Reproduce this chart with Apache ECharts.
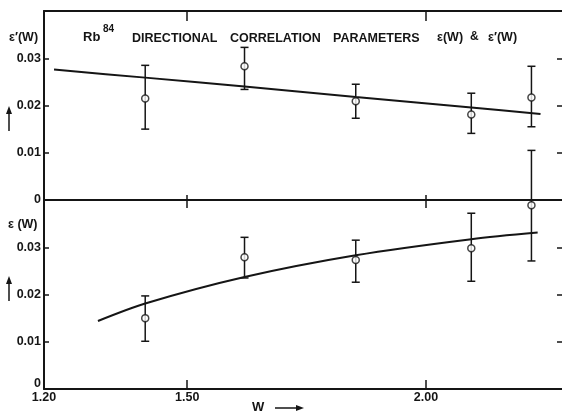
<!DOCTYPE html>
<html><head><meta charset="utf-8">
<script src="https://cdn.jsdelivr.net/npm/echarts@6/dist/echarts.min.js"></script>
<style>html,body{margin:0;padding:0;background:#fff}#c{width:562px;height:414px}</style>
</head><body><div id="c"></div>
<script>
// ---- data ----
const W = [1.412, 1.62, 1.853, 2.095, 2.221];
const epsPrime   = [0.0215, 0.0283, 0.0209, 0.0181, 0.0217];
const epsPrimeLo = [0.0150, 0.0234, 0.0173, 0.0141, 0.0155];
const epsPrimeHi = [0.0285, 0.0323, 0.0245, 0.0226, 0.0283];
const eps   = [0.0150, 0.0279, 0.0273, 0.0298, 0.0389];
const epsLo = [0.0101, 0.0235, 0.0226, 0.0228, 0.0271];
const epsHi = [0.0197, 0.0321, 0.0315, 0.0372, 0.0505];
const fitPrimeW = [1.221, 1.412, 1.62, 1.853, 2.095, 2.24];
const fitPrime  = [0.0276, 0.0259, 0.0240, 0.0218, 0.0196, 0.0182];
const fitW = [1.313, 1.412, 1.62, 1.853, 2.095, 2.234];
const fit  = [0.0144, 0.0181, 0.0237, 0.0283, 0.0317, 0.0331];
const xTickLabels = [1.20, 1.50, 2.00];
const xTicks = [1.50, 2.00];
const yTicks = [0, 0.01, 0.02, 0.03];
const yTicksRight = [0.01, 0.02, 0.03];

const INK = '#151515';
const FONT = 'Liberation Sans';
const zip = (xs, ...cols) => xs.map((x, i) => [x, ...cols.map(c => c[i])]);

function errRender(params, api) {
  const x = api.value(0);
  const pLo = api.coord([x, api.value(2)]);
  const pHi = api.coord([x, api.value(3)]);
  const cap = 4;
  const st = { stroke: INK, lineWidth: 1.5 };
  return { type: 'group', children: [
    { type: 'line', shape: { x1: pLo[0], y1: pLo[1], x2: pHi[0], y2: pHi[1] }, style: st },
    { type: 'line', shape: { x1: pLo[0] - cap, y1: pLo[1], x2: pLo[0] + cap, y2: pLo[1] }, style: st },
    { type: 'line', shape: { x1: pHi[0] - cap, y1: pHi[1], x2: pHi[0] + cap, y2: pHi[1] }, style: st }
  ]};
}

const axLine = { show: true, onZero: false, lineStyle: { color: INK, width: 2 } };
const noLine = { show: false, onZero: false };
const yLabel = {
  customValues: yTicks, margin: 3, color: INK, fontFamily: FONT, fontWeight: 'bold', fontSize: 12.5,
  formatter: v => v === 0 ? '0' : v.toFixed(2)
};
function xAx(grid, pos, tick, extra) {
  return Object.assign({
    type: 'value', gridIndex: grid, position: pos, min: 1.2, max: 2.285,
    axisLine: axLine, splitLine: { show: false },
    axisTick: Object.assign({ customValues: xTicks, lineStyle: { color: INK, width: 1.5 } }, tick),
    axisLabel: { show: false }
  }, extra || {});
}
function yAx(grid, pos, showLabel, labelExtra) {
  const left = pos === 'left';
  return {
    type: 'value', gridIndex: grid, position: pos, min: 0, max: 0.04,
    axisLine: left ? axLine : noLine,
    splitLine: { show: false },
    axisTick: { customValues: left ? yTicks : yTicksRight, inside: true, length: 5, lineStyle: { color: INK, width: 1.5 } },
    axisLabel: showLabel ? Object.assign({}, yLabel, labelExtra || {}) : { show: false }
  };
}

const chart = echarts.init(document.getElementById('c'), null, { renderer: 'canvas' });
chart.setOption({
  animation: false,
  backgroundColor: '#fff',
  grid: [
    { show: false, left: 44, right: 0, top: 11, height: 189 },
    { show: false, left: 44, right: 0, top: 200, height: 189 }
  ],
  xAxis: [
    xAx(0, 'top', { inside: true, length: 10 }),
    xAx(0, 'bottom', { inside: false, length: 8 }),
    xAx(1, 'top', { inside: false, length: 5 }, { axisLine: noLine }),
    xAx(1, 'bottom', { inside: true, length: 9 }, {
      axisLabel: { show: true, customValues: xTickLabels, margin: 2, color: INK, fontFamily: FONT,
        fontWeight: 'bold', fontSize: 12.5, formatter: v => v.toFixed(2) }
    })
  ],
  yAxis: [
    yAx(0, 'left', true),
    yAx(0, 'right', false),
    yAx(1, 'left', true, { formatter: v => v === 0 ? '{z|0}' : v.toFixed(2),
      rich: { z: { padding: [0, 0, 10, 0], fontFamily: FONT, fontWeight: 'bold', fontSize: 12.5, color: INK } } }),
    yAx(1, 'right', false)
  ],
  series: [
    { type: 'line', xAxisIndex: 1, yAxisIndex: 0, data: zip(fitPrimeW, fitPrime), smooth: 0.3,
      showSymbol: false, lineStyle: { color: INK, width: 2 }, z: 2 },
    { type: 'line', xAxisIndex: 3, yAxisIndex: 2, data: zip(fitW, fit), smooth: 0.3,
      showSymbol: false, lineStyle: { color: INK, width: 2 }, z: 2 },
    { type: 'custom', xAxisIndex: 1, yAxisIndex: 0, data: zip(W, epsPrime, epsPrimeLo, epsPrimeHi),
      renderItem: errRender, clip: false, z: 3 },
    { type: 'custom', xAxisIndex: 3, yAxisIndex: 2, data: zip(W, eps, epsLo, epsHi),
      renderItem: errRender, clip: false, z: 3 },
    { type: 'scatter', xAxisIndex: 1, yAxisIndex: 0, data: zip(W, epsPrime), symbol: 'circle', symbolSize: 7,
      itemStyle: { color: '#fff', borderColor: INK, borderWidth: 1.5 }, z: 4 },
    { type: 'scatter', xAxisIndex: 3, yAxisIndex: 2, data: zip(W, eps), symbol: 'circle', symbolSize: 7,
      itemStyle: { color: '#fff', borderColor: INK, borderWidth: 1.5 }, z: 4 }
  ],
  graphic: [
    { type: 'text', left: 9, top: 31, style: { text: "ε′(W)", font: 'bold 12.5px ' + FONT, fill: INK } },
    { type: 'text', left: 8, top: 218, style: { text: "ε (W)", font: 'bold 12.5px ' + FONT, fill: INK } },
    { type: 'text', left: 83, top: 31, style: { text: "Rb", font: 'bold 13px ' + FONT, fill: INK } },
    { type: 'text', left: 103, top: 24, style: { text: "84", font: 'bold 10px ' + FONT, fill: INK } },
    { type: 'text', left: 132, top: 32, style: { text: "DIRECTIONAL", font: 'bold 12.5px ' + FONT, fill: INK } },
    { type: 'text', left: 230, top: 32, style: { text: "CORRELATION", font: 'bold 12.5px ' + FONT, fill: INK } },
    { type: 'text', left: 333, top: 32, style: { text: "PARAMETERS", font: 'bold 12.5px ' + FONT, fill: INK } },
    { type: 'text', left: 437, top: 31, style: { text: "ε(W)", font: 'bold 12.5px ' + FONT, fill: INK } },
    { type: 'text', left: 470, top: 31, style: { text: "&", font: 'bold 12px ' + FONT, fill: INK } },
    { type: 'text', left: 488, top: 31, style: { text: "ε′(W)", font: 'bold 12.5px ' + FONT, fill: INK } },
    { type: 'text', left: 252, top: 401, style: { text: "W", font: 'bold 13px ' + FONT, fill: INK } },
    // arrows
    { type: 'line', shape: { x1: 275, y1: 408, x2: 298, y2: 408 }, style: { stroke: INK, lineWidth: 1.5 } },
    { type: 'polygon', shape: { points: [[296, 405], [304, 408], [296, 411]] }, style: { fill: INK } },
    { type: 'line', shape: { x1: 9, y1: 131, x2: 9, y2: 112 }, style: { stroke: INK, lineWidth: 1.5 } },
    { type: 'polygon', shape: { points: [[6, 114], [9, 106], [12, 114]] }, style: { fill: INK } },
    { type: 'line', shape: { x1: 9, y1: 301, x2: 9, y2: 282 }, style: { stroke: INK, lineWidth: 1.5 } },
    { type: 'polygon', shape: { points: [[6, 284], [9, 276], [12, 284]] }, style: { fill: INK } }
  ]
});
</script></body></html>
